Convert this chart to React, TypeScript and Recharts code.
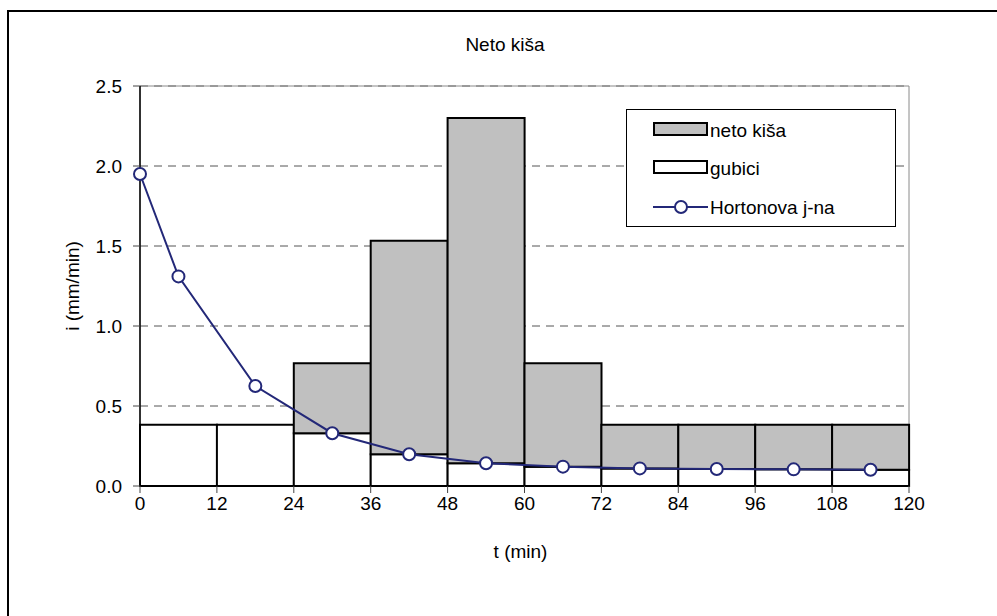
import React from 'react';
import {
  ComposedChart,
  Bar,
  Line,
  XAxis,
  YAxis,
  CartesianGrid,
  ReferenceArea,
  Legend,
} from 'recharts';

// 12-minute rainfall intervals
const intervals = ['0-12', '12-24', '24-36', '36-48', '48-60', '60-72', '72-84', '84-96', '96-108', '108-120'];
// total rainfall intensity per interval (mm/min)
const rainfall = [0.383, 0.383, 0.767, 1.533, 2.3, 0.767, 0.383, 0.383, 0.383, 0.383];
// infiltration losses per interval (mm/min)
const losses = [0.383, 0.383, 0.33, 0.198, 0.142, 0.121, 0.11, 0.106, 0.104, 0.102];

// Horton infiltration curve
const hortonT = [0, 6, 18, 30, 42, 54, 66, 78, 90, 102, 114];
const hortonF = [1.95, 1.31, 0.625, 0.33, 0.198, 0.142, 0.121, 0.11, 0.106, 0.104, 0.102];

const tTicks = [0, 12, 24, 36, 48, 60, 72, 84, 96, 108, 120];
const iTicks = [0, 0.5, 1.0, 1.5, 2.0, 2.5];

const FONT = '"Liberation Sans", Arial, sans-serif';
const FS = 19;
const NAVY = '#232878';
const GREY_FILL = '#c0c0c0';

const barRows = intervals.map((interval, k) => ({
  interval,
  gubici: losses[k],
  neto: +(rainfall[k] - losses[k]).toFixed(3),
}));

const hortonRows = hortonT.map((t, k) => ({ t, f: hortonF[k] }));

const YLabel = (props: any) => {
  const vb = props.viewBox || {};
  const cx = vb.x + 12;
  const cy = vb.y + vb.height / 2;
  return (
    <text
      x={cx}
      y={cy}
      transform={`rotate(-90, ${cx}, ${cy})`}
      textAnchor="middle"
      dominantBaseline="central"
      fontFamily={FONT}
      fontSize={FS}
      fill="#000"
    >
      i (mm/min)
    </text>
  );
};

const XLabel = (props: any) => {
  const vb = props.viewBox || {};
  return (
    <text
      x={vb.x + vb.width / 2 - 4}
      y={vb.y + 65}
      textAnchor="middle"
      dominantBaseline="central"
      fontFamily={FONT}
      fontSize={FS}
      fill="#000"
    >
      t (min)
    </text>
  );
};

const LegendBox = () => {
  const textStyle = { fontFamily: FONT, fontSize: FS, fill: '#000' } as const;
  return (
    <svg width={270} height={118} style={{ display: 'block' }}>
      <rect x={0.5} y={0.5} width={269} height={117} fill="#fff" stroke="#000" strokeWidth={1} />
      <rect x={28} y={14} width={53} height={12} fill={GREY_FILL} stroke="#000" strokeWidth={2} />
      <text x={84} y={21} dominantBaseline="central" {...textStyle}>neto kiša</text>
      <rect x={28} y={52} width={53} height={12} fill="#fff" stroke="#000" strokeWidth={2} />
      <text x={84} y={59} dominantBaseline="central" {...textStyle}>gubici</text>
      <line x1={27} y1={98} x2={82} y2={98} stroke={NAVY} strokeWidth={2} />
      <circle cx={55} cy={98} r={6} fill="#fff" stroke={NAVY} strokeWidth={2} />
      <text x={84} y={98} dominantBaseline="central" {...textStyle}>Hortonova j-na</text>
    </svg>
  );
};

export default function App() {
  return (
    <div style={{ position: 'absolute', left: 0, top: 0, width: 997, height: 616, background: '#fff' }}>
      <div style={{ position: 'absolute', left: 7, top: 10, width: 1.5, height: 606, background: '#000' }} />
      <div style={{ position: 'absolute', left: 7, top: 10, width: 990, height: 1.5, background: '#000' }} />
      <div
        style={{
          position: 'absolute',
          left: 405,
          top: 34,
          width: 200,
          height: 22,
          lineHeight: '22px',
          textAlign: 'center',
          fontFamily: FONT,
          fontSize: FS,
          color: '#000',
        }}
      >
        Neto kiša
      </div>
      <ComposedChart
        width={997}
        height={616}
        data={barRows}
        margin={{ top: 86, right: 88, bottom: 80, left: 60 }}
        barCategoryGap={0}
        barGap={0}
        style={{ position: 'absolute', left: 0, top: 0 }}
      >
        <XAxis
          xAxisId="t"
          dataKey="t"
          type="number"
          domain={[0, 120]}
          ticks={tTicks}
          interval={0}
          height={50}
          tickSize={7}
          tickMargin={4}
          axisLine={{ stroke: '#000', strokeWidth: 2 }}
          tickLine={{ stroke: '#444', strokeWidth: 1 }}
          tick={{ fontFamily: FONT, fontSize: FS, fill: '#000' }}
          label={<XLabel />}
        />
        <XAxis xAxisId="cat" dataKey="interval" type="category" hide height={0} />
        <YAxis
          domain={[0, 2.5]}
          ticks={iTicks}
          interval={0}
          width={80}
          tickSize={7}
          tickMargin={11}
          tickFormatter={(v: number) => v.toFixed(1)}
          axisLine={{ stroke: '#000', strokeWidth: 1.5 }}
          tickLine={{ stroke: '#444', strokeWidth: 1 }}
          tick={{ fontFamily: FONT, fontSize: FS, fill: '#000' }}
          label={<YLabel />}
        />
        <ReferenceArea
          xAxisId="t"
          x1={0}
          x2={120}
          y1={0}
          y2={2.5}
          fill="none"
          stroke="#8a8a8a"
          strokeWidth={1}
          ifOverflow="visible"
        />
        <CartesianGrid
          xAxisId="t"
          horizontal
          vertical={false}
          stroke="#555"
          strokeDasharray="8 6"
        />
        <Bar
          xAxisId="cat"
          dataKey="gubici"
          name="gubici"
          stackId="a"
          fill="#fff"
          stroke="#000"
          strokeWidth={2}
          isAnimationActive={false}
        />
        <Bar
          xAxisId="cat"
          dataKey="neto"
          name="neto kiša"
          stackId="a"
          fill={GREY_FILL}
          stroke="#000"
          strokeWidth={2}
          isAnimationActive={false}
        />
        <Line
          xAxisId="t"
          data={hortonRows}
          dataKey="f"
          name="Hortonova j-na"
          type="linear"
          stroke={NAVY}
          strokeWidth={2}
          dot={{ r: 6, fill: '#fff', stroke: NAVY, strokeWidth: 2 }}
          isAnimationActive={false}
        />
        <Legend
          layout="horizontal"
          verticalAlign="middle"
          align="center"
          content={<LegendBox />}
          wrapperStyle={{ position: 'absolute', left: 626, top: 109, width: 270, height: 118 }}
        />
      </ComposedChart>
    </div>
  );
}
